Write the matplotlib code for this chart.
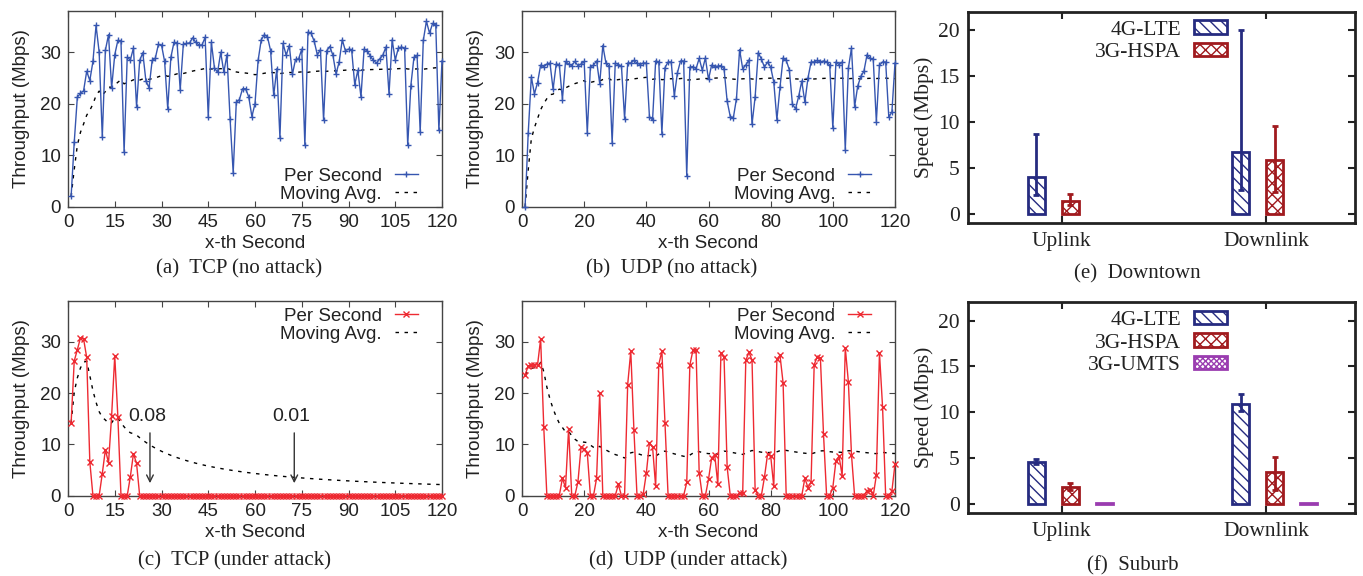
import numpy as np
import matplotlib
matplotlib.use('Agg')
import matplotlib.pyplot as plt

plt.rcParams['font.family'] = 'Liberation Sans'
plt.rcParams['hatch.linewidth'] = 1.0

seconds = np.arange(1, 121)

tcp_normal = [2.0, 12.5, 21.3, 22.0, 22.5, 26.3, 24.5, 28.2, 35.2, 30.0,
              13.5, 30.4, 33.4, 23.1, 29.5, 32.3, 32.1, 10.6, 29.0, 28.5,
              30.8, 19.4, 28.4, 29.9, 24.4, 23.1, 28.4, 28.8, 31.5, 31.4,
              28.2, 19.0, 29.0, 31.9, 31.8, 22.7, 31.5, 31.7, 31.8, 32.8,
              31.9, 31.4, 31.4, 32.9, 17.4, 31.9, 26.9, 26.1, 30.0, 26.1,
              29.5, 17.1, 6.6, 20.3, 20.8, 22.9, 22.9, 21.3, 17.5, 20.0,
              28.4, 32.4, 33.4, 33.0, 30.3, 21.6, 26.8, 13.4, 31.7, 29.4,
              31.3, 25.7, 28.6, 28.7, 30.6, 11.9, 33.9, 33.7, 32.1, 29.5,
              30.5, 16.8, 30.3, 31.1, 29.4, 25.8, 28.1, 32.4, 30.3, 30.6,
              30.5, 23.7, 26.5, 21.3, 30.6, 30.3, 29.2, 28.4, 27.9, 28.7,
              29.4, 31.0, 21.9, 32.4, 28.5, 30.8, 31.0, 30.8, 11.9, 23.5,
              29.0, 29.4, 14.5, 32.3, 36.0, 33.7, 35.6, 35.3, 14.8, 28.3]

udp_normal = [0.0, 14.3, 25.2, 21.9, 24.1, 27.5, 27.2, 27.7, 27.9, 22.8,
              27.7, 27.6, 20.8, 28.2, 27.7, 27.4, 28.2, 27.4, 27.7, 28.2,
              14.3, 27.1, 27.5, 28.3, 23.9, 31.3, 27.9, 27.3, 12.4, 27.9,
              27.6, 27.3, 17.1, 27.9, 27.9, 28.4, 27.9, 27.6, 27.9, 27.9,
              17.5, 16.8, 28.3, 28.1, 14.2, 27.0, 28.1, 28.1, 21.5, 26.0,
              28.3, 28.3, 6.0, 27.1, 27.2, 26.8, 28.8, 26.5, 28.9, 24.7,
              27.5, 27.2, 27.3, 27.4, 26.8, 20.5, 17.5, 17.3, 21.0, 30.5,
              26.8, 27.5, 28.5, 16.0, 21.3, 29.9, 28.7, 27.1, 28.1, 27.1,
              24.2, 16.9, 23.2, 28.9, 28.4, 26.6, 19.9, 19.0, 21.4, 24.4,
              20.3, 25.0, 28.1, 28.1, 28.4, 28.1, 28.3, 28.1, 27.5, 15.3,
              28.1, 27.6, 28.1, 11.0, 26.9, 30.8, 19.4, 23.4, 25.3, 26.3,
              29.5, 28.8, 28.6, 16.5, 27.5, 28.1, 28.1, 17.4, 18.4, 27.9]

tcp_attack = [14.2, 26.3, 28.5, 30.8, 30.6, 27.0, 6.6, 0.0, 0.0, 0.0,
              4.3, 9.0, 6.4, 15.6, 27.3, 15.4, 0.0, 0.0, 0.0, 3.7,
              8.2, 6.3] + [0.0] * 98

udp_attack = [23.6, 25.3, 25.6, 25.6, 25.5, 30.6, 13.4, 0.0, 0.0, 0.0,
              0.0, 0.0, 3.4, 1.6, 13.1, 0.0, 0.0, 2.7, 9.5, 9.1,
              8.4, 0.0, 0.0, 3.4, 20.1, 0.0, 0.0, 0.0, 0.0, 0.0,
              2.2, 0.0, 0.0, 21.7, 28.2, 12.9, 0.0, 0.0, 0.3, 4.4,
              10.3, 9.5, 1.8, 25.6, 28.2, 14.2, 0.0, 0.0, 0.0, 0.0,
              0.0, 0.0, 2.6, 25.5, 28.4, 28.4, 4.5, 0.0, 0.0, 3.2,
              7.3, 8.0, 2.2, 27.9, 27.0, 5.6, 0.0, 0.0, 0.0, 0.6,
              0.6, 26.4, 28.0, 26.5, 1.2, 0.0, 0.0, 3.6, 8.1, 7.8,
              1.8, 26.6, 27.4, 22.0, 0.0, 0.0, 0.0, 0.0, 0.0, 0.0,
              3.4, 1.6, 2.7, 25.6, 27.1, 26.9, 12.0, 0.0, 0.0, 1.6,
              6.8, 7.7, 3.9, 28.9, 22.2, 8.0, 0.0, 0.0, 0.0, 0.0,
              1.0, 1.2, 0.0, 4.0, 27.9, 17.3, 0.0, 0.0, 0.9, 6.2]

directions = ['Uplink', 'Downlink']

downtown_lte = [4.0, 6.7]
downtown_lte_lo = [2.0, 2.6]
downtown_lte_hi = [8.7, 20.0]
downtown_hspa = [1.4, 5.8]
downtown_hspa_lo = [0.9, 2.4]
downtown_hspa_hi = [2.1, 9.5]

suburb_lte = [4.5, 10.9]
suburb_lte_lo = [4.3, 10.1]
suburb_lte_hi = [4.9, 12.0]
suburb_hspa = [1.8, 3.5]
suburb_hspa_lo = [1.5, 1.5]
suburb_hspa_hi = [2.3, 5.1]
suburb_umts = [0.1, 0.1]

blue = '#3656b0'
red = '#ee2a32'
lte_col = '#262b80'
hspa_col = '#a01a1e'
umts_col = '#9a3cb0'
text_col = '#222222'

fig = plt.figure(figsize=(13.63, 5.76), dpi=100)
W, H = 1363.0, 576.0


def rect(x0, x1, y0, y1):
    return [x0 / W, 1 - y1 / H, (x1 - x0) / W, (y1 - y0) / H]


def line_panel(r, values, color, marker, step, top_legend):
    ax = fig.add_axes(r)
    v = np.array(values)
    # running average over the seconds seen so far
    avg = np.cumsum(v) / np.arange(1, len(v) + 1)
    ax.plot(seconds, v, color=color, marker=marker, ms=5, mew=1, lw=1,
            label='Per Second', clip_on=False, zorder=3)
    ax.plot(seconds, avg, color='black', lw=1, dashes=(2.5, 4),
            label='Moving Avg.', zorder=2)
    ax.set_xlim(0, 120)
    ax.set_ylim(0, 38)
    ax.set_xticks(np.arange(0, 121, step))
    ax.set_yticks([0, 10, 20, 30])
    ax.tick_params(direction='in', top=True, right=True, length=4,
                   labelsize=13.5, colors='#444444', labelcolor=text_col, pad=5)
    for s in ax.spines.values():
        s.set_color('#444444')
        s.set_linewidth(1)
    ax.set_xlabel('x-th Second', fontsize=13.5, color=text_col, labelpad=3)
    ax.set_ylabel('Throughput (Mbps)', fontsize=13.5, color=text_col, labelpad=7)
    if top_legend:
        loc, anchor = 'upper right', (0.935, 0.965)
    else:
        loc, anchor = 'lower right', (0.935, 0.02)
    ax.legend(loc=loc, bbox_to_anchor=anchor, frameon=False, markerfirst=False,
              fontsize=13.5, handlelength=1.2, handletextpad=0.7,
              labelspacing=0.05, borderpad=0, borderaxespad=0, labelcolor=text_col)
    return ax


line_panel(rect(68, 442, 11, 206.7), tcp_normal, blue, '+', 15, False)
line_panel(rect(522, 895, 11, 206.7), udp_normal, blue, '+', 20, False)
ax_c = line_panel(rect(68, 442, 301, 495.7), tcp_attack, red, 'x', 15, True)
line_panel(rect(522, 895, 301, 495.7), udp_attack, red, 'x', 20, True)

for x_arrow, label in [(26.3, '0.08'), (72.6, '0.01')]:
    ax_c.annotate('', xy=(x_arrow, 1.9), xytext=(x_arrow, 12.8),
                  arrowprops=dict(arrowstyle='->', color='#333333', lw=1,
                                  mutation_scale=12))
    ax_c.text(x_arrow - 1.0, 15.4, label, ha='center', va='center',
              fontsize=14, color=text_col)

cat_pos = np.array([0.0, 6.0])
offsets = [-0.75, 0.25, 1.25]
bar_w = 0.5


def bar_panel(r, series):
    ax = fig.add_axes(r)
    for i, (name, vals, lo, hi, col, hatch) in enumerate(series):
        x = cat_pos + offsets[i]
        ax.bar(x, vals, width=bar_w, facecolor='white', edgecolor=col,
               hatch=hatch, linewidth=2, label=name, zorder=2)
        if lo is not None:
            vals_a = np.array(vals)
            yerr = [vals_a - np.array(lo), np.array(hi) - vals_a]
            ax.errorbar(x, vals, yerr=yerr, fmt='none', ecolor=col,
                        elinewidth=2, capsize=2, capthick=2, zorder=3)
    ax.set_xlim(-2.75, 8.6)
    ax.set_ylim(-1, 22)
    ax.set_xticks(cat_pos)
    ax.set_xticklabels(directions, family='Liberation Serif', fontsize=15.5)
    ax.set_yticks([0, 5, 10, 15, 20])
    for lab in ax.get_yticklabels():
        lab.set_family('Liberation Serif')
        lab.set_fontsize(15.5)
    ax.tick_params(direction='in', top=True, right=True, length=5, width=1.5,
                   colors='#222222', pad=6)
    ax.tick_params(axis='x', pad=7)
    for s in ax.spines.values():
        s.set_linewidth(2)
        s.set_color('#222222')
    ax.set_ylabel('Speed (Mbps)', family='Liberation Serif', fontsize=15.5,
                  color=text_col, labelpad=3)
    ax.legend(loc='upper right', bbox_to_anchor=(0.67, 0.96), frameon=False,
              markerfirst=False, prop={'family': 'Liberation Serif', 'size': 15.5},
              handlelength=1.55, handleheight=0.6, handletextpad=0.6,
              labelspacing=0.14, borderpad=0, borderaxespad=0, labelcolor=text_col)
    return ax


bar_panel(rect(968, 1355, 11.7, 222.7), [
    ('4G-LTE', downtown_lte, downtown_lte_lo, downtown_lte_hi, lte_col, '\\\\\\'),
    ('3G-HSPA', downtown_hspa, downtown_hspa_lo, downtown_hspa_hi, hspa_col, 'xxx'),
])
bar_panel(rect(968, 1355, 302.3, 512.7), [
    ('4G-LTE', suburb_lte, suburb_lte_lo, suburb_lte_hi, lte_col, '\\\\\\'),
    ('3G-HSPA', suburb_hspa, suburb_hspa_lo, suburb_hspa_hi, hspa_col, 'xxx'),
    ('3G-UMTS', suburb_umts, None, None, umts_col, 'xxxxxx'),
])

captions = [(239, 269, '(a)  TCP (no attack)'), (672, 269, '(b)  UDP (no attack)'),
            (1137, 274, '(e)  Downtown'), (234, 561, '(c)  TCP (under attack)'),
            (688, 561, '(d)  UDP (under attack)'), (1133, 566, '(f)  Suburb')]
for cx, cy, txt in captions:
    fig.text(cx / W, 1 - cy / H, txt, ha='center', va='center',
             family='Liberation Serif', fontsize=15, color=text_col)

fig.savefig('out.png', dpi=100)
